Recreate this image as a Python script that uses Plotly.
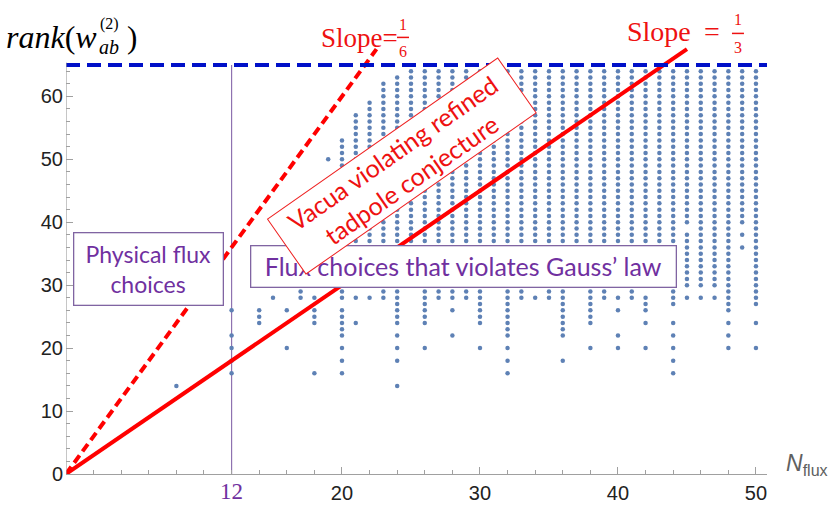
import plotly.graph_objects as go

# ---------------- data ----------------
N_COLS = [8, 12, 14, 15, 16, 17, 18, 19, 20, 21, 22, 23, 24, 25, 26, 27, 28, 29,
          30, 31, 32, 33, 34, 35, 36, 37, 38, 39, 40, 41, 42, 43, 44, 45, 46, 47,
          48, 49, 50]
# isolated rank values per column
SPARSE_RANKS = [
    [14],
    [16, 18, 20, 22, 26],
    [24, 25, 26],
    [28],
    [20, 26],
    [28, 29],
    [16, 24, 25, 26, 28],
    [50],
    [16, 18, 20, 22, 23, 24, 25, 26, 28, 29],
    [24, 28],
    [28],
    [28, 29],
    [14, 18, 20, 22, 24, 25, 26, 27, 28, 29],
    [],
    [20, 24, 25, 26, 27, 28, 29],
    [28, 29],
    [22, 26, 28, 29],
    [28, 29],
    [20, 24, 25, 26, 27, 28, 29],
    [],
    [16, 18, 20, 22, 23, 24, 25, 26, 27, 28, 29],
    [28, 29],
    [28],
    [28, 29],
    [18, 22, 23, 24, 25, 26, 27, 28, 29],
    [],
    [20, 24, 25, 26, 27, 28, 29],
    [28, 29],
    [20, 22, 26, 28],
    [28, 29],
    [20, 24, 26, 27, 28],
    [],
    [16, 18, 20, 22, 24, 27, 28, 29],
    [28, 30, 31, 32, 33, 34, 35, 36, 37, 38],
    [28],
    [28],
    [20, 22, 24],
    [36, 38],
    [20, 24],
]
# contiguous run of ranks (every integer from low to high), None = no run
RUN_LOW = [None, None, None, None, None, None, None, None, 30, 30, 30, 30, 30, 30, 30, 30, 30, 30,
           30, 30, 30, 30, 30, 30, 30, 30, 30, 30, 30, 30, 30, 30, 30, 40, 30, 30,
           26, 40, 27]
RUN_HIGH = [None, None, None, None, None, None, None, None, 53, 57, 59, 62, 63, 64, 64, 64, 64, 64,
            64, 64, 64, 64, 64, 64, 64, 64, 64, 64, 64, 64, 64, 64, 64, 64, 64, 64,
            64, 64, 64]

MAX_RANK = 65          # blue dashed bound
GAUSS_N = 12           # vertical line
SLOPE_STEEP = 3        # "Slope = 1/6" line (rank per flux)
SLOPE_SHALLOW = 1.5    # "Slope = 1/3" line
LINE_TOP = 67.5

X_TICKS = [20, 30, 40, 50]
Y_TICKS = [0, 10, 20, 30, 40, 50, 60]

# ---------------- expand points ----------------
xs, ys = [], []
for n, sp, lo, hi in zip(N_COLS, SPARSE_RANKS, RUN_LOW, RUN_HIGH):
    vals = list(sp)
    if lo is not None:
        vals += list(range(lo, hi + 1))
    for v in vals:
        xs.append(n)
        ys.append(v)

# ---------------- geometry helpers (pixel -> paper) ----------------
L, B = 66, 474
PXX, PXY = 13.8, 6.3
XMAX, YMAX = 50.8, 68.0
W = XMAX * PXX
H = YMAX * PXY


def px(p):
    return (p - L) / W


def py(p):
    return (B - p) / H


def dy(p):
    return (B - p) / PXY


fig = go.Figure()

fig.add_trace(go.Scatter(
    x=xs, y=ys, mode="markers",
    marker=dict(size=4.5, color="#5E81B5"),
    hoverinfo="skip", showlegend=False))

# red lines
fig.add_trace(go.Scatter(
    x=[0, LINE_TOP / SLOPE_SHALLOW], y=[0, LINE_TOP], mode="lines",
    line=dict(color="#FF0000", width=4), showlegend=False, hoverinfo="skip"))
fig.add_trace(go.Scatter(
    x=[0, LINE_TOP / SLOPE_STEEP], y=[0, LINE_TOP], mode="lines",
    line=dict(color="#FF0000", width=4, dash="9px,5px"), showlegend=False,
    hoverinfo="skip"))

# blue dashed bound
fig.add_trace(go.Scatter(
    x=[0, XMAX], y=[MAX_RANK, MAX_RANK], mode="lines",
    line=dict(color="#0010C8", width=4, dash="14px,7px"), showlegend=False,
    hoverinfo="skip"))

shapes = [
    # y-axis line
    dict(type="line", xref="x", yref="y", x0=0, x1=0, y0=0, y1=dy(62),
         line=dict(color="#A0A0A0", width=1.2), layer="above"),
    # purple vertical line at N=12
    dict(type="line", xref="x", yref="y", x0=GAUSS_N, x1=GAUSS_N, y0=0, y1=MAX_RANK,
         line=dict(color="#8E72B0", width=1.2), layer="below"),
]

annotations = []
PURPLE = "#7030A0"
RED = "#EE1111"
SERIF = "Liberation Serif"


def ann(x, y, text, size, color, family=SERIF, xanchor="center", **kw):
    d = dict(x=px(x), y=py(y), xref="paper", yref="paper", showarrow=False,
             text=text, xanchor=xanchor, yanchor="middle", borderpad=0,
             font=dict(family=family, size=size, color=color))
    d.update(kw)
    annotations.append(d)


# boxes
ann(149, 269, "Physical flux<br>choices", 23, PURPLE, family="Lato",
    align="center", bgcolor="white", bordercolor="#8064A2", borderwidth=1.3,
    width=148, height=71)
ann(464, 266, "Flux choices that violates Gauss\u2019 law", 25, PURPLE, family="Lato",
    align="center", bgcolor="white", bordercolor="#8064A2", borderwidth=1.3,
    width=424, height=40)
ann(402, 166, "Vacua violating refined<br>tadpole conjecture", 25, RED, family="Lato",
    align="center", bgcolor="white", bordercolor="#EE2222", borderwidth=1,
    width=280, height=66, textangle=-35)

# y-axis title  rank(w_ab^(2))
ann(5, 37, "<i>rank</i>(<i>w</i>", 32, "black", xanchor="left")
ann(99, 24, "(2)", 16, "black", xanchor="left")
ann(98, 47, "<i>ab</i>", 20, "black", xanchor="left")
ann(126, 37, ")", 31, "black", xanchor="left")

# slope labels
ann(320, 38, "Slope=", 27, RED, xanchor="left")
ann(403, 24, "1", 16, RED)
ann(403, 51, "6", 16, RED)
shapes.append(dict(type="line", xref="paper", yref="paper", x0=px(397), x1=px(409),
                   y0=py(37), y1=py(37), line=dict(color=RED, width=1.5)))

ann(626, 31, "Slope", 28, RED, xanchor="left")
ann(712, 31, "=", 28, RED)
ann(738, 19, "1", 16, RED)
ann(738, 47, "3", 16, RED)
shapes.append(dict(type="line", xref="paper", yref="paper", x0=px(732), x1=px(744),
                   y0=py(33), y1=py(33), line=dict(color=RED, width=1.5)))

# "12" label and N_flux label
ann(L + GAUSS_N * PXX, 492, str(GAUSS_N), 23, PURPLE)
ann(785, 464, "<i>N</i><sub>flux</sub>", 23, "#606060", family="Liberation Sans",
    xanchor="left")

fig.update_layout(
    width=832, height=508,
    margin=dict(l=L, r=832 - L - W, t=B - H, b=508 - B, autoexpand=False),
    paper_bgcolor="white", plot_bgcolor="white",
    shapes=shapes, annotations=annotations,
    xaxis=dict(range=[0, XMAX], showgrid=False, zeroline=False,
               showline=True, linecolor="#A0A0A0", linewidth=1.2,
               ticks="inside", ticklen=7, tickcolor="#A0A0A0", tickwidth=1,
               tickvals=X_TICKS, ticklabelstandoff=1,
               tickfont=dict(family="Liberation Sans", size=20, color="#222222"),
               minor=dict(tickvals=list(range(2, 51, 2)), ticklen=4,
                          tickcolor="#A0A0A0", ticks="inside", showgrid=False)),
    yaxis=dict(range=[0, YMAX], showgrid=False, zeroline=False,
               showline=False,
               ticks="inside", ticklen=7, tickcolor="#A0A0A0", tickwidth=1,
               tickvals=Y_TICKS, ticklabelstandoff=2,
               tickfont=dict(family="Liberation Sans", size=20, color="#222222"),
               minor=dict(tickvals=list(range(2, 65, 2)), ticklen=4,
                          tickcolor="#A0A0A0", ticks="inside", showgrid=False)),
)

fig.write_html("out.html", post_script="document.body.style.margin='0px';",
               config={"displayModeBar": False})
